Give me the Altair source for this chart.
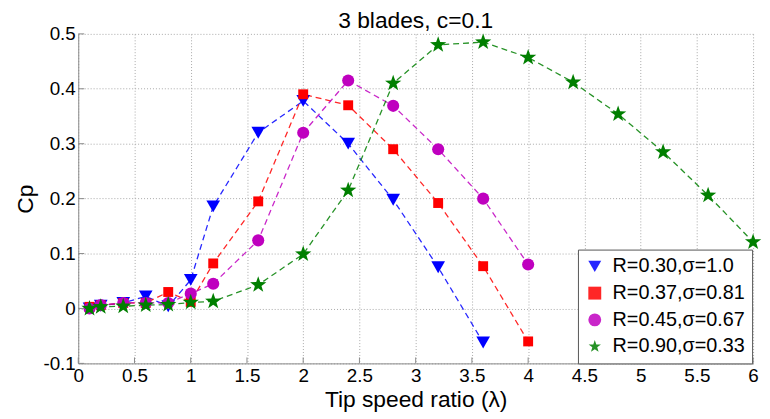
import altair as alt
import pandas as pd

# ---- data ----
series_names = ["R=0.30,σ=1.0", "R=0.37,σ=0.81", "R=0.45,σ=0.67", "R=0.90,σ=0.33"]

x_blue = [0.1, 0.2, 0.4, 0.6, 0.8, 1.0, 1.2, 1.6, 2.0, 2.4, 2.8, 3.2, 3.6]
cp_blue = [0.0, 0.005, 0.01, 0.022, 0.004, 0.052, 0.186, 0.32, 0.378, 0.30, 0.198, 0.075, -0.062]

x_red = [0.1, 0.2, 0.4, 0.6, 0.8, 1.0, 1.2, 1.6, 2.0, 2.4, 2.8, 3.2, 3.6, 4.0]
cp_red = [0.003, 0.006, 0.01, 0.01, 0.03, 0.012, 0.082, 0.195, 0.39, 0.37, 0.29, 0.192, 0.077, -0.06]

x_mag = [0.1, 0.2, 0.4, 0.6, 0.8, 1.0, 1.2, 1.6, 2.0, 2.4, 2.8, 3.2, 3.6, 4.0]
cp_mag = [0.0, 0.006, 0.01, 0.01, 0.01, 0.027, 0.045, 0.124, 0.32, 0.415, 0.369, 0.29, 0.20, 0.08]

x_green = [0.1, 0.2, 0.4, 0.6, 0.8, 1.0, 1.2, 1.6, 2.0, 2.4, 2.8, 3.2, 3.6, 4.0, 4.4, 4.8, 5.2, 5.6, 6.0]
cp_green = [0.0, 0.003, 0.004, 0.006, 0.007, 0.011, 0.013, 0.043, 0.099, 0.215, 0.41, 0.48, 0.485,
            0.457, 0.412, 0.354, 0.285, 0.206, 0.121]

x_ticks = [0, 0.5, 1, 1.5, 2, 2.5, 3, 3.5, 4, 4.5, 5, 5.5, 6]
y_ticks = [-0.1, 0, 0.1, 0.2, 0.3, 0.4, 0.5]

# ---- styles ----
marker_colors = ["#0000ff", "#ff0000", "#bf00bf", "#007f00"]
star = ("M0,-1L0.235,-0.324L0.951,-0.309L0.380,0.124L0.588,0.809L0,0.4"
        "L-0.588,0.809L-0.380,0.124L-0.951,-0.309L-0.235,-0.324Z")
shapes = ["triangle-down", "square", "circle", star]
sizes = [190, 100, 150, 300]
FONT = "Liberation Sans"

frames = []
for name, xs, ys in zip(series_names,
                        [x_blue, x_red, x_mag, x_green],
                        [cp_blue, cp_red, cp_mag, cp_green]):
    frames.append(pd.DataFrame({"series": name, "tsr": xs, "cp": ys}))
df = pd.concat(frames, ignore_index=True)

W, H = 682, 333

x_scale = alt.Scale(domain=[0, 6], nice=False, zero=False)
y_scale = alt.Scale(domain=[-0.1, 0.5], nice=False, zero=False)
c_scale = alt.Scale(domain=series_names, range=marker_colors)
s_scale = alt.Scale(domain=series_names, range=shapes)

x_axis = alt.Axis(values=x_ticks, labelExpr="'' + datum.value", labelFlush=False,
                  title="Tip speed ratio (λ)", labelPadding=3, titlePadding=4)
y_axis = alt.Axis(values=y_ticks, labelExpr="'' + datum.value", labelFlush=False,
                  title="Cp", labelPadding=3, titlePadding=6)

legend = alt.Legend(title=None, orient="none", legendX=505, legendY=218)

base = alt.Chart(df)

lines = base.mark_line(strokeDash=[6, 4], strokeWidth=1.3, opacity=0.85).encode(
    x=alt.X("tsr:Q", scale=x_scale, axis=x_axis),
    y=alt.Y("cp:Q", scale=y_scale, axis=y_axis),
    color=alt.Color("series:N", scale=c_scale, legend=legend),
)

point_layers = []
for name, sz in zip(series_names, sizes):
    point_layers.append(
        base.transform_filter(alt.datum.series == name)
        .mark_point(filled=True, opacity=1, strokeWidth=0, size=sz)
        .encode(
            x=alt.X("tsr:Q", scale=x_scale, axis=x_axis),
            y=alt.Y("cp:Q", scale=y_scale, axis=y_axis),
            color=alt.Color("series:N", scale=c_scale, legend=legend),
            shape=alt.Shape("series:N", scale=s_scale, legend=legend),
        )
    )

xt = pd.DataFrame({"t": x_ticks})
yt = pd.DataFrame({"t": y_ticks})
xtick_rules = alt.Chart(xt).mark_rule(color="#8a8a8a", strokeWidth=1).encode(
    x=alt.X("t:Q", scale=x_scale, axis=x_axis),
    y=alt.value(H), y2=alt.value(H - 6),
)
ytick_rules = alt.Chart(yt).mark_rule(color="#8a8a8a", strokeWidth=1).encode(
    y=alt.Y("t:Q", scale=y_scale, axis=y_axis),
    x=alt.value(0), x2=alt.value(6),
)

chart = alt.layer(lines, *point_layers, xtick_rules, ytick_rules).properties(
    width=W, height=H,
    title=alt.TitleParams("3 blades, c=0.1", font=FONT, fontSize=23, fontWeight="normal",
                          color="black", offset=-8),
    padding={"left": 6, "top": 0, "right": 0, "bottom": 0},
    background="white",
).configure_view(strokeWidth=0).configure_axis(
    grid=True, gridDash=[1, 2], gridColor="#a8a8a8", gridOpacity=1, gridWidth=1,
    domainColor="#8a8a8a", domainWidth=1, ticks=False,
    labelFont=FONT, labelFontSize=19, labelColor="black",
    titleFont=FONT, titleFontSize=23, titleFontWeight="normal", titleColor="black",
).configure_legend(
    strokeColor="#555555", fillColor="white", padding=7,
    labelFont=FONT, labelFontSize=20, labelColor="black", symbolSize=170,
    rowPadding=7, labelOffset=8, symbolStrokeWidth=0, cornerRadius=0,
)

chart.save("out.html", embed_options={"renderer": "svg", "actions": False})
